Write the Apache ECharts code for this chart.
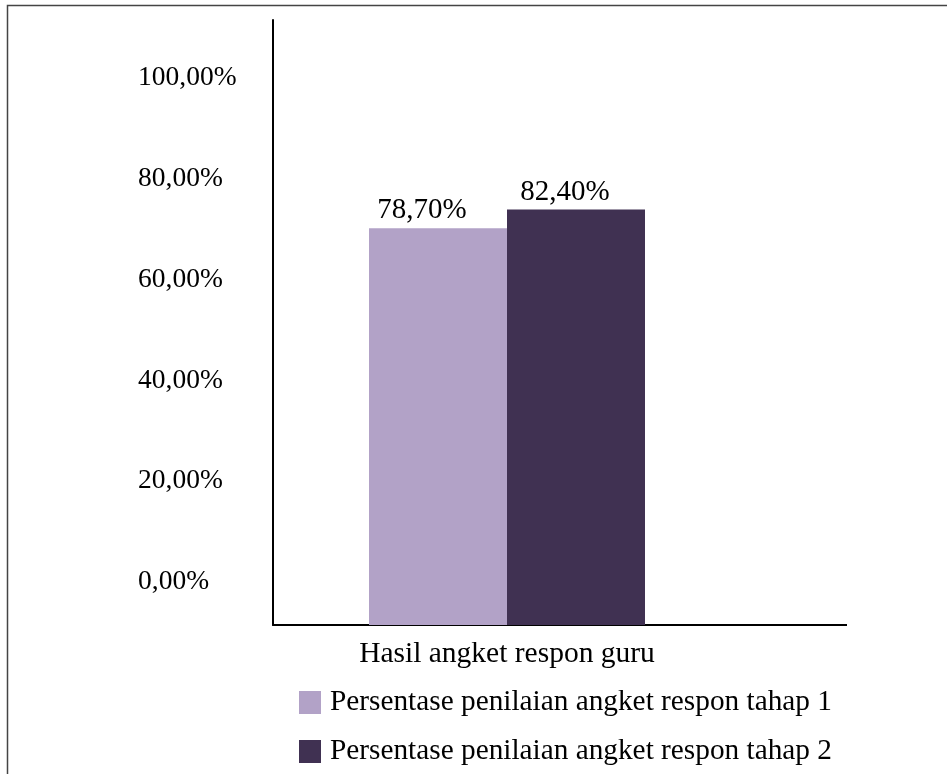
<!DOCTYPE html>
<html>
<head>
<meta charset="utf-8">
<style>
  html, body { margin: 0; padding: 0; background: #ffffff; }
  #chart { width: 947px; height: 774px; }
</style>
<script src="https://cdn.jsdelivr.net/npm/echarts@6/dist/echarts.min.js"></script>
</head>
<body>
<div id="chart"></div>
<script>
// Survey results: teacher response questionnaire, stage 1 vs stage 2
const categories = ['Hasil angket respon guru'];
const seriesNames = [
  'Persentase penilaian angket respon tahap 1',
  'Persentase penilaian angket respon tahap 2'
];
const tahap1 = [78.7];
const tahap2 = [82.4];
const yTicks = [0, 20, 40, 60, 80, 100];

const FONT = 'Liberation Serif';
const fmtPct = v => Number(v).toFixed(2).replace('.', ',') + '%';

const chart = echarts.init(document.getElementById('chart'), null, { renderer: 'canvas' });

const barLabel = (dx) => ({
  show: true, position: 'top', distance: 3, offset: [dx, 0],
  fontFamily: FONT, fontSize: 29, color: '#000',
  formatter: p => fmtPct(p.value)
});

chart.setOption({
  animation: false,
  backgroundColor: '#ffffff',
  textStyle: { fontFamily: FONT, color: '#000' },
  grid: { left: 273, top: 20, width: 468, bottom: 149, containLabel: false },
  xAxis: {
    type: 'category',
    data: categories,
    axisLine: { show: true, lineStyle: { color: '#000', width: 2 } },
    axisTick: { show: false },
    axisLabel: { fontFamily: FONT, fontSize: 29.5, color: '#000', margin: 14 }
  },
  yAxis: {
    type: 'value',
    min: 0,
    max: 120,
    interval: 20,
    axisLine: { show: true, lineStyle: { color: '#000', width: 2 } },
    axisTick: { show: false },
    splitLine: { show: false },
    axisLabel: {
      fontFamily: FONT,
      fontSize: 27.5,
      color: '#000',
      align: 'left',
      verticalAlign: 'bottom',
      lineHeight: 86,
      margin: 135,
      formatter: v => (yTicks.indexOf(v) >= 0 ? fmtPct(v) : '')
    }
  },
  legend: {
    orient: 'vertical',
    left: 299,
    top: 688,
    height: 86,
    padding: 0,
    itemWidth: 22,
    itemHeight: 23,
    itemGap: 20,
    icon: 'rect',
    textStyle: { fontFamily: FONT, fontSize: 29.3, lineHeight: 29, color: '#000', padding: [0, 0, 0, 4] },
    data: seriesNames
  },
  series: [
    {
      name: seriesNames[0],
      type: 'bar',
      data: tahap1,
      barWidth: 138,
      barGap: '0%',
      itemStyle: { color: '#b2a2c7' },
      label: barLabel(-16)
    },
    {
      name: seriesNames[1],
      type: 'bar',
      data: tahap2,
      barWidth: 138,
      barGap: '0%',
      itemStyle: { color: '#403152' },
      label: barLabel(-11)
    }
  ]
});

// outer frame (top and left edges) and the baseline running past the plot area
const gridRect = chart.getModel().getComponent('grid').coordinateSystem.getRect();
const baseY = gridRect.y + gridRect.height;
chart.setOption({
  graphic: [
    {
      type: 'polyline',
      silent: true,
      shape: { points: [[7.5, 774], [7.5, 5.5], [947, 5.5]] },
      style: { stroke: '#444', lineWidth: 1.5, fill: null }
    },
    {
      type: 'line',
      silent: true,
      shape: { x1: gridRect.x + gridRect.width, y1: baseY, x2: 847, y2: baseY },
      style: { stroke: '#000', lineWidth: 2 }
    }
  ]
});
</script>
</body>
</html>
